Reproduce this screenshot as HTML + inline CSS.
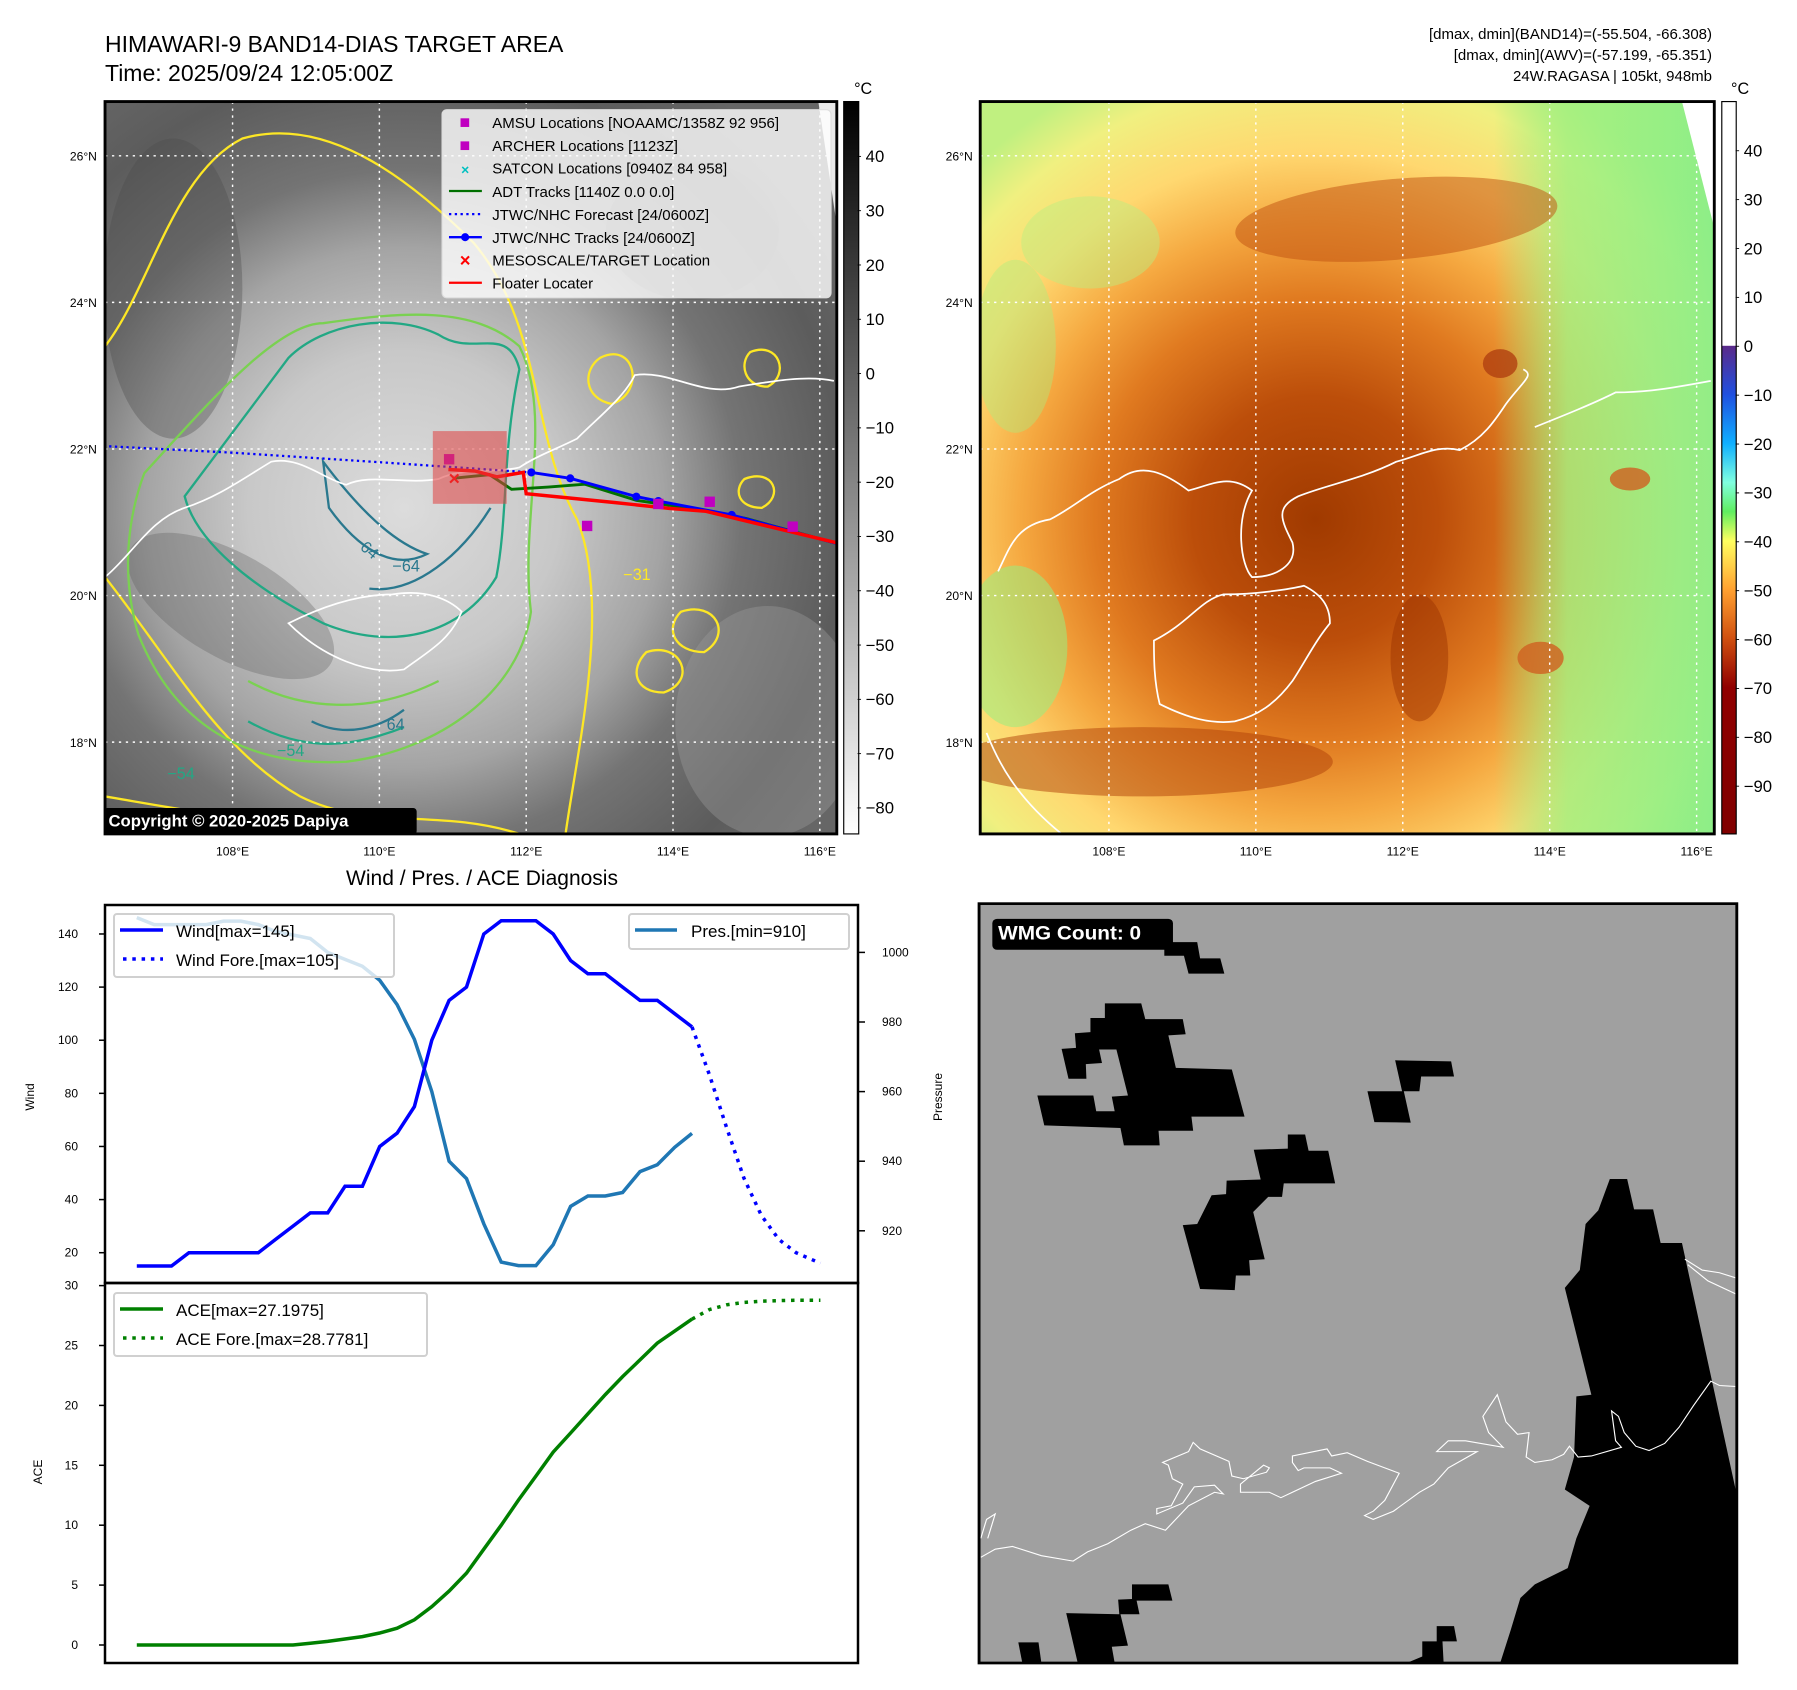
<!DOCTYPE html>
<html><head><meta charset="utf-8">
<style>
html,body{margin:0;padding:0;background:#fff;}
svg{display:block;font-family:"Liberation Sans","DejaVu Sans",sans-serif;}
</style></head>
<body>
<svg id="fig" width="1797" height="1690" viewBox="0 0 1797 1690" xmlns="http://www.w3.org/2000/svg">
<defs>
  <radialGradient id="irGray" cx="700" cy="880" r="900" gradientUnits="userSpaceOnUse">
    <stop offset="0" stop-color="#dcdcdc"/>
    <stop offset="0.3" stop-color="#c8c8c8"/>
    <stop offset="0.5" stop-color="#a4a4a4"/>
    <stop offset="0.65" stop-color="#747474"/>
    <stop offset="0.85" stop-color="#5c5c5c"/>
    <stop offset="1" stop-color="#666"/>
  </radialGradient>
  <radialGradient id="irColor" cx="720" cy="900" r="850" gradientUnits="userSpaceOnUse">
    <stop offset="0" stop-color="#a03a00"/>
    <stop offset="0.25" stop-color="#bc4e0a"/>
    <stop offset="0.45" stop-color="#e07a20"/>
    <stop offset="0.6" stop-color="#f5a840"/>
    <stop offset="0.75" stop-color="#ffd870"/>
    <stop offset="0.9" stop-color="#f0f080"/>
    <stop offset="1" stop-color="#c0f080"/>
  </radialGradient>
  <linearGradient id="greenRight" x1="0" x2="1" y1="0" y2="0">
    <stop offset="0" stop-color="#90ee80" stop-opacity="0"/>
    <stop offset="0.7" stop-color="#90ee80" stop-opacity="0"/>
    <stop offset="0.8" stop-color="#a0f080" stop-opacity="0.8"/>
    <stop offset="1" stop-color="#88ee88" stop-opacity="0.9"/>
  </linearGradient>
  <linearGradient id="cbGray" x1="0" x2="0" y1="0" y2="1">
    <stop offset="0" stop-color="#000"/>
    <stop offset="1" stop-color="#fff"/>
  </linearGradient>
  <linearGradient id="cbColor" x1="0" x2="0" y1="0" y2="1">
    <stop offset="0" stop-color="#fff"/>
    <stop offset="0.333" stop-color="#fff"/>
    <stop offset="0.334" stop-color="#5a2a8a"/>
    <stop offset="0.4" stop-color="#2050e0"/>
    <stop offset="0.467" stop-color="#10b0ff"/>
    <stop offset="0.52" stop-color="#80ffe0"/>
    <stop offset="0.56" stop-color="#60ee60"/>
    <stop offset="0.6" stop-color="#ffff60"/>
    <stop offset="0.667" stop-color="#ffa030"/>
    <stop offset="0.733" stop-color="#d05010"/>
    <stop offset="0.8" stop-color="#900000"/>
    <stop offset="1" stop-color="#800000"/>
  </linearGradient>
  <clipPath id="clipL"><rect x="182" y="176" width="1268" height="1269"/></clipPath>
  <clipPath id="clipR"><rect x="139" y="176" width="1272" height="1269"/></clipPath>
  <clipPath id="clipW"><rect x="137" y="99" width="1313" height="1401"/></clipPath>
</defs>

<text x="105" y="52" font-size="23">HIMAWARI-9 BAND14-DIAS TARGET AREA</text>
<text x="105" y="81" font-size="23">Time: 2025/09/24 12:05:00Z</text>
<g font-size="15" text-anchor="end">
  <text x="1712" y="39">[dmax, dmin](BAND14)=(-55.504, -66.308)</text>
  <text x="1712" y="60">[dmax, dmin](AWV)=(-57.199, -65.351)</text>
  <text x="1712" y="81">24W.RAGASA | 105kt, 948mb</text>
</g>

<g id="leftMap" transform="scale(0.5771)">
  <g clip-path="url(#clipL)">
    <rect x="182" y="176" width="1268" height="1269" fill="url(#irGray)"/>
    <ellipse cx="1330" cy="1250" rx="160" ry="200" fill="#9a9a9a" opacity="0.4"/>
    <ellipse cx="300" cy="500" rx="120" ry="260" fill="#4a4a4a" opacity="0.35"/>
    <ellipse cx="1200" cy="400" rx="150" ry="120" fill="#4e4e4e" opacity="0.35"/>
    <ellipse cx="400" cy="1050" rx="200" ry="90" fill="#555" opacity="0.3" transform="rotate(30 400 1050)"/>
    <g fill="none" stroke-width="4">
      <path d="M182,600 C260,500 300,300 420,240 C560,200 700,300 820,420 C940,560 920,760 1000,900 C1060,1050 1000,1300 980,1445" stroke="#fde725"/>
      <path d="M182,1000 C300,1150 380,1300 520,1380 C640,1440 760,1400 900,1445" stroke="#fde725"/>
      <path d="M182,1380 C300,1400 400,1420 560,1430" stroke="#fde725"/>
      <path d="M1040,620 C1100,590 1120,680 1060,700 C1010,690 1010,640 1040,620Z" stroke="#fde725"/>
      <path d="M1180,1060 C1240,1040 1270,1100 1220,1130 C1170,1130 1150,1090 1180,1060Z" stroke="#fde725"/>
      <path d="M1120,1130 C1180,1110 1210,1180 1150,1200 C1100,1200 1090,1160 1120,1130Z" stroke="#fde725"/>
      <path d="M1300,610 C1350,590 1370,650 1330,670 C1290,670 1280,630 1300,610Z" stroke="#fde725"/>
      <path d="M1290,830 C1340,810 1360,860 1320,880 C1280,880 1270,850 1290,830Z" stroke="#fde725"/>
      <path d="M250,820 C360,700 480,560 560,560 C700,540 820,530 900,600 C960,720 900,900 920,1060 C900,1200 760,1300 600,1320 C420,1330 300,1250 240,1100 C210,1000 220,900 250,820Z" stroke="#7ad151"/>
      <path d="M430,1180 C520,1230 640,1240 760,1180" stroke="#7ad151"/>
      <path d="M500,620 C560,560 680,540 760,580 C820,620 880,560 900,640 C870,780 880,900 860,1000 C800,1100 680,1130 560,1080 C440,1020 340,940 320,860 C380,780 440,700 500,620Z" stroke="#22a884"/>
      <path d="M430,1250 C520,1300 600,1300 700,1260" stroke="#22a884"/>
      <path d="M560,800 C620,880 680,940 740,960 C680,990 620,950 570,880Z" stroke="#2a788e"/>
      <path d="M640,1020 C720,1030 800,960 850,880" stroke="#2a788e"/>
      <path d="M540,1250 C600,1280 660,1260 700,1230" stroke="#2a788e"/>
    </g>
    <g fill="#2a788e" font-size="28">
      <text x="610" y="940" transform="rotate(40 610 940)">−64</text>
      <text x="680" y="990">−64</text>
      <text x="670" y="1265">64</text>
      <text x="480" y="1310" fill="#22a884">−54</text>
      <text x="290" y="1350" fill="#22a884">−54</text>
      <text x="1080" y="1005" fill="#fde725">−31</text>
    </g>
    <g fill="none" stroke="#fff" stroke-width="3">
      <path d="M182,1000 C230,960 260,900 320,880 C380,860 420,830 470,800 C520,790 560,830 600,840 C640,820 700,840 760,830 C800,810 860,820 900,810 C930,790 960,780 1000,760 C1040,720 1080,690 1100,650 C1160,640 1220,690 1280,670 C1340,660 1400,650 1445,660"/>
      <path d="M500,1080 C560,1050 620,1030 680,1030 C740,1020 780,1040 800,1060 C780,1110 740,1130 700,1160 C640,1170 560,1140 500,1080Z"/>
    </g>
    <g id="gridL" stroke="#fff" stroke-width="2.5" stroke-dasharray="4 8" fill="none"></g>
    <g id="tracks"></g>
    <rect x="750" y="747" width="128" height="126" fill="#e04040" opacity="0.55"/>
    <path d="M1418,176 L1450,176 L1450,390Z" fill="#e8e8e8"/>
    <g>
      <rect x="766" y="190" width="674" height="326" rx="8" fill="#fff" fill-opacity="0.8" stroke="#ddd" stroke-width="2"/>
      <g font-size="26" fill="#000">
        <rect x="798" y="205" width="15" height="15" fill="#c000c0"/><text x="853" y="222">AMSU Locations [NOAAMC/1358Z 92 956]</text>
        <rect x="798" y="245" width="15" height="15" fill="#c000c0"/><text x="853" y="262">ARCHER Locations [1123Z]</text>
        <text x="806" y="302" fill="#00c0c0" font-size="24" text-anchor="middle" font-weight="bold">×</text><text x="853" y="301">SATCON Locations [0940Z 84 958]</text>
        <line x1="778" y1="331" x2="835" y2="331" stroke="#007000" stroke-width="4"/><text x="853" y="341">ADT Tracks [1140Z 0.0 0.0]</text>
        <line x1="778" y1="371" x2="835" y2="371" stroke="#0000ff" stroke-width="4" stroke-dasharray="4 6"/><text x="853" y="381">JTWC/NHC Forecast [24/0600Z]</text>
        <line x1="778" y1="411" x2="835" y2="411" stroke="#0000ff" stroke-width="4"/><circle cx="806" cy="411" r="7" fill="#0000ff"/><text x="853" y="421">JTWC/NHC Tracks [24/0600Z]</text>
        <text x="806" y="462" fill="#ff0000" font-size="32" text-anchor="middle" font-weight="bold">×</text><text x="853" y="460">MESOSCALE/TARGET Location</text>
        <line x1="778" y1="490" x2="835" y2="490" stroke="#ff0000" stroke-width="4"/><text x="853" y="500">Floater Locater</text>
      </g>
    </g>
    <rect x="180" y="1400" width="542" height="46" rx="6" fill="#000"/>
    <text x="188" y="1432" font-size="29" font-weight="bold" fill="#fff">Copyright © 2020-2025 Dapiya</text>
  </g>
  <rect x="182" y="176" width="1268" height="1269" fill="none" stroke="#000" stroke-width="5"/>
  <g id="ticksL" font-size="21"></g>
  <rect x="1462" y="176" width="26" height="1269" fill="url(#cbGray)" stroke="#000" stroke-width="2"/>
  <text x="1480" y="163" font-size="28">°C</text>
  <g id="cbTicksL" font-size="29"></g>
</g>

<g transform="translate(900,0) scale(0.5771)">
  <g clip-path="url(#clipR)">
    <rect x="139" y="176" width="1272" height="1269" fill="url(#irColor)"/>
    <rect x="139" y="176" width="1272" height="1269" fill="url(#greenRight)"/>
    <ellipse cx="860" cy="380" rx="280" ry="70" fill="#c05010" opacity="0.5" transform="rotate(-5 860 380)"/>
    <ellipse cx="420" cy="1320" rx="330" ry="60" fill="#b04008" opacity="0.5"/>
    <ellipse cx="900" cy="1140" rx="50" ry="110" fill="#9a3000" opacity="0.45"/>
    <ellipse cx="1110" cy="1140" rx="40" ry="28" fill="#d06020" opacity="0.8"/>
    <ellipse cx="1265" cy="830" rx="35" ry="20" fill="#d06020" opacity="0.8"/>
    <ellipse cx="1040" cy="630" rx="30" ry="25" fill="#b04010" opacity="0.8"/>
    <ellipse cx="200" cy="1120" rx="90" ry="140" fill="#98ee80" opacity="0.55"/>
    <ellipse cx="330" cy="420" rx="120" ry="80" fill="#b8f080" opacity="0.45"/>
    <ellipse cx="200" cy="600" rx="70" ry="150" fill="#a8f080" opacity="0.4"/>
    <path d="M1355,176 L1411,176 L1411,395Z" fill="#fff"/>
    <g fill="none" stroke="#fff" stroke-width="3">
      <path d="M170,990 C190,950 200,910 260,900 C300,880 330,850 380,830 C420,800 460,820 500,850 C540,840 570,820 610,850 C580,900 590,980 610,1000 C650,1000 690,980 680,940 C660,900 650,880 690,860 C740,840 800,830 860,800 C900,790 930,770 970,780 C1010,760 1030,730 1050,700 C1080,660 1100,650 1080,640 M1100,740 C1150,720 1200,700 1240,680 C1300,680 1350,670 1405,660"/>
      <path d="M440,1110 C500,1080 520,1040 560,1030 C620,1030 680,1020 700,1015 C730,1030 745,1050 745,1080 C720,1110 700,1150 680,1180 C650,1220 620,1240 580,1250 C540,1255 500,1245 450,1220 C440,1180 440,1140 440,1110Z"/>
      <path d="M150,1270 C170,1320 200,1380 280,1445"/>
    </g>
    <g id="gridR" stroke="#fff" stroke-width="2.5" stroke-dasharray="4 8" fill="none"></g>
  </g>
  <rect x="139" y="176" width="1272" height="1269" fill="none" stroke="#000" stroke-width="5"/>
  <g id="ticksR" font-size="21"></g>
  <rect x="1424" y="176" width="25" height="1269" fill="url(#cbColor)" stroke="#000" stroke-width="2"/>
  <text x="1440" y="163" font-size="28">°C</text>
  <g id="cbTicksR" font-size="29"></g>
</g>

<text x="482" y="885" font-size="21" text-anchor="middle">Wind / Pres. / ACE Diagnosis</text>

<g id="windChart">
  <rect x="105" y="905" width="753" height="378" fill="#fff"/>
  <g id="windMarks"></g>
  <rect x="105" y="905" width="753" height="378" fill="none" stroke="#000" stroke-width="2.5"/>
  <g id="windTicks" font-size="12"></g>
  <text transform="translate(34,1097) rotate(-90)" font-size="12" text-anchor="middle">Wind</text>
  <text transform="translate(942,1097) rotate(-90)" font-size="12" text-anchor="middle">Pressure</text>
  <g>
    <rect x="114" y="914" width="280" height="63" rx="3" fill="#fff" fill-opacity="0.8" stroke="#d0d0d0" stroke-width="2"/>
    <line x1="120" y1="930" x2="163" y2="930" stroke="#0000ff" stroke-width="3.5"/>
    <text x="176" y="937" font-size="17">Wind[max=145]</text>
    <line x1="123" y1="959" x2="163" y2="959" stroke="#0000ff" stroke-width="3.5" stroke-dasharray="3.5 5.8"/>
    <text x="176" y="966" font-size="17">Wind Fore.[max=105]</text>
  </g>
  <g>
    <rect x="629" y="914" width="220" height="35" rx="3" fill="#fff" fill-opacity="0.8" stroke="#d0d0d0" stroke-width="2"/>
    <line x1="635" y1="930" x2="677" y2="930" stroke="#1f77b4" stroke-width="3.5"/>
    <text x="691" y="937" font-size="17">Pres.[min=910]</text>
  </g>
</g>

<g id="aceChart">
  <g id="aceMarks"></g>
  <rect x="105" y="1283" width="753" height="380" fill="none" stroke="#000" stroke-width="2.5"/>
  <g id="aceTicks" font-size="12"></g>
  <text transform="translate(42,1472) rotate(-90)" font-size="12" text-anchor="middle">ACE</text>
  <g>
    <rect x="114" y="1293" width="313" height="63" rx="3" fill="#fff" fill-opacity="0.8" stroke="#d0d0d0" stroke-width="2"/>
    <line x1="120" y1="1309" x2="163" y2="1309" stroke="#008000" stroke-width="3.5"/>
    <text x="176" y="1316" font-size="17">ACE[max=27.1975]</text>
    <line x1="123" y1="1338" x2="163" y2="1338" stroke="#008000" stroke-width="3.5" stroke-dasharray="3.5 5.8"/>
    <text x="176" y="1345" font-size="17">ACE Fore.[max=28.7781]</text>
  </g>
</g>

<g transform="translate(900,850) scale(0.5771,0.542)">
  <g clip-path="url(#clipW)">
    <rect x="137" y="99" width="1313" height="1401" fill="#a0a0a0"/>
    <g fill="#000">
      <polygon points="1230,607 1260,607 1272,663 1305,663 1318,725 1355,725 1450,1190 1450,1500 1040,1500 1058,1440 1075,1380 1100,1355 1157,1325 1172,1270 1195,1210 1152,1180 1168,1120 1172,1008 1198,1005 1152,808 1178,775 1188,690 1210,665"/>
      <polygon points="355,283 418,283 425,312 490,312 495,340 465,342 478,402 575,405 597,492 505,492 508,518 448,518 450,545 388,545 382,513 250,508 238,453 335,453 340,482 372,482 367,455 395,453 375,368 345,368 350,393 322,395 323,422 292,422 280,367 305,365 303,338 330,336 330,310 355,310"/>
      <polygon points="458,170 515,170 520,200 555,200 562,228 500,228 492,195 458,195"/>
      <polygon points="672,525 702,525 708,555 742,555 754,615 665,615 662,640 638,640 612,668 632,755 605,757 607,785 582,785 580,812 520,810 490,692 515,690 540,637 565,635 566,610 625,608 613,553 672,551"/>
      <polygon points="858,388 955,390 960,418 903,418 900,445 873,445 885,503 822,502 810,445 870,445"/>
      <polygon points="402,1355 465,1355 472,1385 410,1385 415,1410 382,1410 395,1468 367,1470 372,1500 308,1500 288,1408 380,1410 378,1383 402,1382"/>
      <polygon points="205,1462 240,1462 245,1500 212,1500"/>
      <polygon points="930,1432 960,1432 965,1460 940,1460 942,1500 878,1500 905,1488 905,1460 930,1460"/>
    </g>
    <g fill="none" stroke="#fff" stroke-width="2">
      <path d="M140,1305 L165,1290 L195,1285 L245,1302 L300,1312 L325,1295 L360,1280 L400,1255 L425,1243 L460,1255 L500,1210 L545,1185 L560,1188 L545,1172 L510,1175 L490,1205 L445,1225 L445,1215 L470,1210 L490,1170 L472,1160 L465,1135 L455,1130 L500,1110 L508,1093 L520,1105 L570,1128 L575,1155 L595,1160 L635,1148 L640,1140 L630,1135 L590,1170 L590,1185 L640,1185 L660,1195 L680,1185 L720,1165 L765,1150 L745,1140 L700,1140 L690,1145 L680,1130 L680,1118 L740,1105 L748,1118 L775,1112 L810,1128 L865,1150 L840,1200 L820,1220 L805,1228 L820,1235 L855,1220 L900,1185 L925,1170 L950,1140 L1000,1110 L930,1110 L950,1090 L980,1090 L1045,1102 L1020,1075 L1010,1045 L1035,1005 L1050,1055 L1070,1078 L1090,1075 L1085,1120 L1100,1130 L1130,1125 L1150,1115 L1160,1100 L1175,1120 L1198,1118 L1250,1102 L1240,1090 L1233,1035 L1245,1045 L1255,1075 L1275,1100 L1298,1108 L1325,1095 L1350,1065 L1375,1025 L1405,980 L1420,988 L1450,990"/>
      <path d="M1360,755 L1390,775 L1420,780 L1450,790 M1365,765 L1400,795 L1450,820"/>
      <path d="M140,1270 L150,1235 L165,1225 L152,1270"/>
    </g>
    <rect x="160" y="127" width="313" height="57" rx="8" fill="#000"/>
    <text x="170" y="165" font-size="36" font-weight="bold" fill="#fff">WMG Count: 0</text>
  </g>
  <rect x="137" y="99" width="1313" height="1401" fill="none" stroke="#000" stroke-width="5"/>
</g>

<script>
const obsIndex = Array.from({length:33},(_,i)=>i);
const windObs = [15,15,15,20,20,20,20,20,25,30,35,35,45,45,60,65,75,100,115,120,140,145,145,145,140,130,125,125,120,115,115,110,105];
const presObs = [1010,1008,1008,1008,1008,1009,1009,1008,1006,1005,1004,1000,998,996,992,985,975,960,940,935,922,911,910,910,916,927,930,930,931,937,939,944,948];
const aceObs = [0,0,0,0,0,0,0,0,0,0,0.15,0.3,0.5,0.7,1.0,1.4,2.1,3.2,4.5,6.0,8.0,10.0,12.1,14.1,16.1,17.7,19.3,20.9,22.4,23.8,25.2,26.2,27.2];
const foreIndex = [32,33,34,35,36,37,38,39.4];
const windFore = [105,87,67,48,34,25,20,16];
const aceFore = [27.2,28.0,28.4,28.6,28.7,28.75,28.78,28.78];
const windTickVals = [20,40,60,80,100,120,140];
const presTickVals = [920,940,960,980,1000];
const aceTickVals = [0,5,10,15,20,25,30];
const fcstLon = [106.24,108,110,112.07];
const fcstLat = [22.04,21.95,21.82,21.68];
const jtwcLon = [112.07,112.6,113.5,113.8,114.8,116.23];
const jtwcLat = [21.68,21.6,21.35,21.29,21.1,20.71];
const floaterLon = [110.94,111.3,111.6,111.96,112.0,112.4,113.2,113.95,114.45,116.23];
const floaterLat = [21.72,21.7,21.62,21.68,21.39,21.35,21.27,21.19,21.15,20.72];
const adtLon = [111.0,111.5,111.8,112.3,112.8,113.5,114.3,115.0,116.2];
const adtLat = [21.6,21.65,21.45,21.48,21.52,21.3,21.18,21.05,20.72];
const amsuLon = [110.95,112.83,114.5,115.63,113.8];
const amsuLat = [21.86,20.95,21.28,20.94,21.25];
const lonTicks = [108,110,112,114,116];
const latTicks = [18,20,22,24,26];
const cbLeftTicks = [40,30,20,10,0,-10,-20,-30,-40,-50,-60,-70,-80];
const cbRightTicks = [40,30,20,10,0,-10,-20,-30,-40,-50,-60,-70,-80,-90];

const NS='http://www.w3.org/2000/svg';
function mk(tag,attrs,parent){const e=document.createElementNS(NS,tag);for(const k in attrs)e.setAttribute(k,attrs[k]);parent.appendChild(e);return e;}
function fmt(v){return v<0?'\u2212'+Math.abs(v):String(v);}

const xI = i => 136.8 + i*17.35;
const yW = v => 1252.7 - (v-20)*2.656;
const yP = p => 952.4 - (p-1000)*3.48;
const yA = a => 1645 - a*11.98;
function pts(xs,ys,fx,fy){return xs.map((x,i)=>fx(x).toFixed(1)+','+fy(ys[i]).toFixed(1)).join(' ');}

const wm=document.getElementById('windMarks');
let el=mk('polyline',{points:pts(obsIndex,presObs,xI,yP),fill:'none',stroke:'#1f77b4','stroke-width':3.5},wm);


el=mk('polyline',{points:pts(obsIndex,windObs,xI,yW),fill:'none',stroke:'#0000ff','stroke-width':3.5},wm);


el=mk('polyline',{points:pts(foreIndex,windFore,xI,yW),fill:'none',stroke:'#0000ff','stroke-width':3.5,'stroke-dasharray':'3.5 5.8'},wm);



const am=document.getElementById('aceMarks');
el=mk('polyline',{points:pts(obsIndex,aceObs,xI,yA),fill:'none',stroke:'#008000','stroke-width':3.5},am);


el=mk('polyline',{points:pts(foreIndex,aceFore,xI,yA),fill:'none',stroke:'#008000','stroke-width':3.5,'stroke-dasharray':'3.5 5.8'},am);



const wt=document.getElementById('windTicks');
windTickVals.forEach(v=>{const y=yW(v);mk('line',{x1:99,x2:105,y1:y,y2:y,stroke:'#000','stroke-width':1.5},wt);
  const t=mk('text',{x:78,y:y+4,'text-anchor':'end'},wt);t.textContent=v;
  
  });
presTickVals.forEach(v=>{const y=yP(v);mk('line',{x1:858,x2:865,y1:y,y2:y,stroke:'#000','stroke-width':1.5},wt);
  const t=mk('text',{x:882,y:y+4},wt);t.textContent=v;
  
  });
const at=document.getElementById('aceTicks');
aceTickVals.forEach(v=>{const y=yA(v);mk('line',{x1:99,x2:105,y1:y,y2:y,stroke:'#000','stroke-width':1.5},at);
  const t=mk('text',{x:78,y:y+4,'text-anchor':'end'},at);t.textContent=v;
  
  });

const mxL = lon => 403 + (lon-108)*127.2;
const myL = lat => 778 - (lat-22)*127;
const mxR = lon => 362 + (lon-108)*127.3;
const myR = lat => 778 - (lat-22)*127;
function grid(gid,fx,fy,x0,x1,y0,y1){const g=document.getElementById(gid);
  lonTicks.forEach(l=>mk('line',{x1:fx(l),x2:fx(l),y1:y0,y2:y1},g));
  latTicks.forEach(l=>mk('line',{x1:x0,x2:x1,y1:fy(l),y2:fy(l)},g));}
grid('gridL',mxL,myL,182,1450,176,1445);
grid('gridR',mxR,myR,139,1411,176,1445);
function ticks(gid,fx,fy,xl,yb){const g=document.getElementById(gid);
  lonTicks.forEach(l=>{const t=mk('text',{x:fx(l),y:yb,'text-anchor':'middle'},g);t.textContent=l+'°E';
    
    });
  latTicks.forEach(l=>{const t=mk('text',{x:xl,y:fy(l)+8,'text-anchor':'end'},g);t.textContent=l+'°N';
    
    });}
ticks('ticksL',mxL,myL,168,1482);
ticks('ticksR',mxR,myR,126,1482);

const tr=document.getElementById('tracks');
el=mk('polyline',{points:pts(adtLon,adtLat,mxL,myL),fill:'none',stroke:'#007000','stroke-width':5},tr);


el=mk('polyline',{points:pts(fcstLon,fcstLat,mxL,myL),fill:'none',stroke:'#0000ff','stroke-width':4,'stroke-dasharray':'4 6'},tr);


el=mk('polyline',{points:pts(jtwcLon,jtwcLat,mxL,myL),fill:'none',stroke:'#0000ff','stroke-width':5},tr);


jtwcLon.slice(0,5).forEach((l,i)=>{const c=mk('circle',{cx:mxL(l),cy:myL(jtwcLat[i]),r:7,fill:'#0000ff'},tr);
  
  });
el=mk('polyline',{points:pts(floaterLon,floaterLat,mxL,myL),fill:'none',stroke:'#ff0000','stroke-width':6},tr);


amsuLon.forEach((l,i)=>{const r=mk('rect',{x:mxL(l)-9,y:myL(amsuLat[i])-9,width:18,height:18,fill:'#c000c0'},tr);
  
  });
el=mk('text',{x:mxL(111.02)-10,y:myL(21.6)+12,fill:'#ff0000','font-size':34,'font-weight':'bold'},tr);
el.textContent='×';



function cb(gid,vals,x,yf){const g=document.getElementById(gid);
  vals.forEach(v=>{const y=yf(v);mk('line',{x1:x-14,x2:x-8,y1:y,y2:y,stroke:'#000','stroke-width':1.5},g);
    const t=mk('text',{x:x,y:y+10},g);t.textContent=fmt(v);
    
    });}
cb('cbTicksL',cbLeftTicks,1500,v=>271-(v-40)*9.408);
cb('cbTicksR',cbRightTicks,1462,v=>600-v*8.47);
</script>
</svg>
</body></html>
